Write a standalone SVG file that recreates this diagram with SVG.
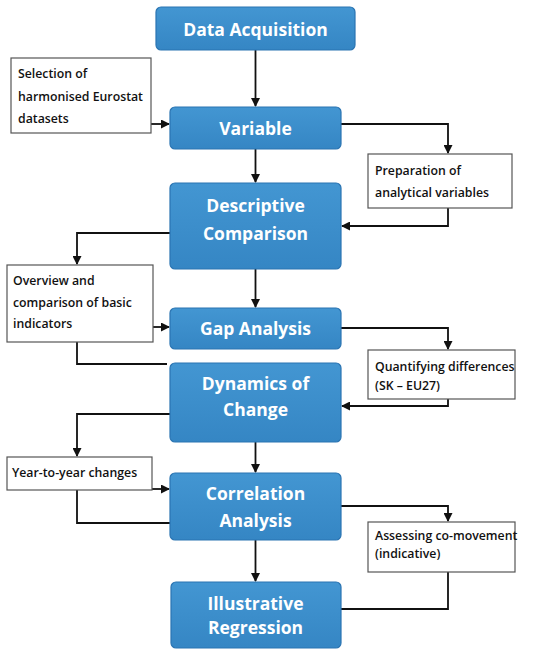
<svg xmlns="http://www.w3.org/2000/svg" width="550" height="655" viewBox="0 0 550 655">
<defs>
<marker id="ah" markerWidth="9" markerHeight="9" refX="8" refY="4.5" orient="auto" markerUnits="userSpaceOnUse">
<path d="M0,0 L9,4.5 L0,9 z" fill="#111"/>
</marker>
<linearGradient id="bg" x1="0" y1="0" x2="0" y2="1">
<stop offset="0" stop-color="#4396d2"/>
<stop offset="1" stop-color="#3586c4"/>
</linearGradient>
</defs>
<style>
.main{fill:url(#bg);stroke:#2a74b2;stroke-width:1.2}
.side{fill:#fff;stroke:#555;stroke-width:1.2}
.mt{font-family:"Open Sans","Noto Sans",sans-serif;font-weight:700;font-size:17.5px;fill:#fff;text-anchor:middle;dominant-baseline:central}
.st{font-family:"Open Sans","Noto Sans",sans-serif;font-weight:600;font-size:12.3px;fill:#111;dominant-baseline:central}
.c{fill:none;stroke:#111;stroke-width:1.8}
.a{marker-end:url(#ah)}
</style>
<rect width="550" height="655" fill="#fff"/>
<g id="connectors">
<path class="c a" d="M255.5,50 V106"/>
<path class="c a" d="M151,124 H169"/>
<path class="c a" d="M341,124 H448 V153"/>
<path class="c a" d="M255.5,149 V182"/>
<path class="c a" d="M448,208 V226 H342"/>
<path class="c a" d="M170,233 H77 V264"/>
<path class="c a" d="M255.5,269 V307"/>
<path class="c a" d="M153,327 H169"/>
<path class="c a" d="M341,328 H448 V349"/>
<path class="c" d="M77,342 V364 H167"/>
<path class="c a" d="M448,399 V406 H342"/>
<path class="c a" d="M170,414 H77 V456"/>
<path class="c a" d="M255.5,442 V472"/>
<path class="c a" d="M152,489 H169"/>
<path class="c" d="M77,490 V523 H170"/>
<path class="c a" d="M341,506 H448 V521"/>
<path class="c a" d="M255.5,540 V581"/>
<path class="c" d="M448,572 V609 H341"/>
</g>
<g id="n1"><rect class="main" x="156" y="7" width="199" height="43" rx="5"/><text class="mt" x="255.5" y="29">Data Acquisition</text></g>
<g id="n2"><rect class="main" x="170" y="107" width="171" height="42" rx="5"/><text class="mt" x="255.5" y="128">Variable</text></g>
<g id="n3"><rect class="main" x="170" y="183" width="171" height="86" rx="5"/><text class="mt" x="255.5" y="205">Descriptive</text><text class="mt" x="255.5" y="233">Comparison</text></g>
<g id="n4"><rect class="main" x="170" y="308" width="171" height="41" rx="5"/><text class="mt" x="255.5" y="328">Gap Analysis</text></g>
<g id="n5"><rect class="main" x="170" y="363" width="171" height="79" rx="5"/><text class="mt" x="255.5" y="383">Dynamics of</text><text class="mt" x="255.5" y="409">Change</text></g>
<g id="n6"><rect class="main" x="170" y="473" width="171" height="67" rx="5"/><text class="mt" x="255.5" y="493">Correlation</text><text class="mt" x="255.5" y="520">Analysis</text></g>
<g id="n7"><rect class="main" x="171" y="582" width="170" height="66" rx="5"/><text class="mt" x="255.5" y="603">Illustrative</text><text class="mt" x="255.5" y="627">Regression</text></g>
<g id="s1"><rect class="side" x="11" y="58" width="140" height="75"/><text class="st" x="18" y="73">Selection of</text><text class="st" x="18" y="96">harmonised Eurostat</text><text class="st" x="18" y="118">datasets</text></g>
<g id="s2"><rect class="side" x="368" y="154" width="144" height="54"/><text class="st" x="375" y="170">Preparation of</text><text class="st" x="375" y="192">analytical variables</text></g>
<g id="s3"><rect class="side" x="7" y="265" width="146" height="77"/><text class="st" x="13" y="280">Overview and</text><text class="st" x="13" y="302">comparison of basic</text><text class="st" x="13" y="323">indicators</text></g>
<g id="s4"><rect class="side" x="368" y="350" width="147" height="49"/><text class="st" x="375" y="366">Quantifying differences</text><text class="st" x="375" y="385">(SK – EU27)</text></g>
<g id="s5"><rect class="side" x="7" y="457" width="145" height="33"/><text class="st" x="12" y="472">Year-to-year changes</text></g>
<g id="s6"><rect class="side" x="368" y="522" width="147" height="50"/><text class="st" x="375" y="535">Assessing co-movement</text><text class="st" x="375" y="553">(indicative)</text></g>
</svg>
